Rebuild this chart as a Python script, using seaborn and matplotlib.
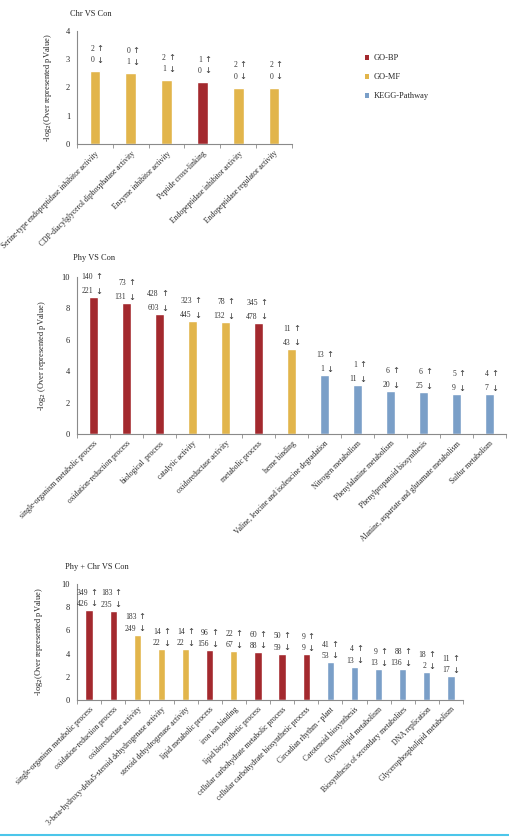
import pandas as pd
import matplotlib.pyplot as plt
import seaborn as sns
from matplotlib.patches import Patch
from matplotlib.lines import Line2D

# -----------------------------
# Data
# -----------------------------
chr_terms = [
    "Serine-type endopeptidase inhibitor activity",
    "CDP-diacylglycerol diphosphatase activity",
    "Enzyme inhibitor activity",
    "Peptide cross-linking",
    "Endopeptidase inhibitor activity",
    "Endopeptidase regulator activity",
]
chr_cats = ["GO-MF", "GO-MF", "GO-MF", "GO-BP", "GO-MF", "GO-MF"]
chr_vals = [2.59, 2.52, 2.26, 2.21, 2.0, 2.0]
chr_up = [2, 0, 2, 1, 2, 2]
chr_down = [0, 1, 1, 0, 0, 0]

phy_terms = [
    "single-organism metabolic process",
    "oxidation-reduction process",
    "biological  process",
    "catalytic activity",
    "oxidoreductase activity",
    "metabolic process",
    "heme binding",
    "Valine, leucine and isoleucine degradation",
    "Nitrogen metabolism",
    "Phenylalanine metabolism",
    "Phenylpropanoid biosynthesis",
    "Alanine, aspartate and glutamate metabolism",
    "Sulfur metabolism",
]
phy_cats = ["GO-BP", "GO-BP", "GO-BP", "GO-MF", "GO-MF", "GO-BP", "GO-MF",
            "KEGG-Pathway", "KEGG-Pathway", "KEGG-Pathway", "KEGG-Pathway",
            "KEGG-Pathway", "KEGG-Pathway"]
phy_vals = [8.73, 8.34, 7.62, 7.2, 7.13, 7.08, 5.44, 3.74, 3.12, 2.74, 2.66, 2.55, 2.55]
phy_up = [140, 73, 428, 323, 78, 345, 11, 13, 1, 6, 6, 5, 4]
phy_down = [221, 131, 603, 445, 132, 478, 43, 1, 11, 20, 25, 9, 7]

both_terms = [
    "single-organism metabolic process",
    "oxidation-reduction process",
    "oxidoreductase activity",
    "3-beta-hydroxy-delta5-steroid dehydrogenase activity",
    "steroid dehydrogenase activity",
    "lipid metabolic process",
    "iron ion binding",
    "lipid biosynthetic process",
    "cellular carbohydrate metabolic process",
    "cellular carbohydrate biosynthetic process",
    "Circadian rhythm - plant",
    "Carotenoid biosynthesis",
    "Glycerolipid metabolism",
    "Biosynthesis of secondary metabolites",
    "DNA replication",
    "Glycerophospholipid metabolism",
]
both_cats = ["GO-BP", "GO-BP", "GO-MF", "GO-MF", "GO-MF", "GO-BP", "GO-MF",
             "GO-BP", "GO-BP", "GO-BP", "KEGG-Pathway", "KEGG-Pathway",
             "KEGG-Pathway", "KEGG-Pathway", "KEGG-Pathway", "KEGG-Pathway"]
both_vals = [7.78, 7.7, 5.63, 4.4, 4.4, 4.3, 4.22, 4.15, 4.0, 3.95,
             3.3, 2.88, 2.68, 2.63, 2.4, 2.03]
both_up = [349, 183, 183, 14, 14, 96, 22, 60, 50, 9, 41, 4, 9, 88, 18, 11]
both_down = [426, 235, 249, 22, 22, 156, 67, 88, 59, 9, 53, 13, 13, 136, 2, 17]

palette = {"GO-BP": "#A3292E", "GO-MF": "#E2B54B", "KEGG-Pathway": "#7A9FC8"}

# -----------------------------
# Style
# -----------------------------
sns.set_style("white")
plt.rcParams["font.family"] = ["Liberation Serif", "DejaVu Sans"]
plt.rcParams["axes.edgecolor"] = "#8a8a8a"

fig = plt.figure(figsize=(5.09, 8.39), dpi=100)
W, H = 509, 839


def px_axes(x0, x1, y_top, y_bot):
    return fig.add_axes([x0 / W, 1 - y_bot / H, (x1 - x0) / W, (y_bot - y_top) / H])


def draw_panel(ax, terms, cats, vals, up, down, ymax, ystep, ylabel, base, gap):
    df = pd.DataFrame({"term": terms, "cat": cats, "val": vals})
    sns.barplot(data=df, x="term", y="val", hue="cat", palette=palette,
                dodge=False, width=0.3, legend=False, ax=ax, saturation=1)
    n = len(terms)
    ax.set_xlim(-0.5, n - 0.5)
    ax.set_ylim(0, ymax)
    ax.set_yticks(range(0, ymax + 1, ystep))
    ax.tick_params(axis="y", labelsize=6, length=3, width=0.6, color="#8a8a8a", pad=2)
    ax.set_xticks(range(n))
    ax.set_xticklabels(terms, rotation=45, ha="right", rotation_mode="anchor",
                       fontsize=5.5)
    ax.set_xticks([i - 0.5 for i in range(n + 1)], minor=True)
    ax.tick_params(axis="x", which="major", length=0, pad=4)
    ax.tick_params(axis="x", which="minor", length=3, width=0.6, color="#8a8a8a",
                   direction="out", bottom=True)
    sns.despine(ax=ax)
    ax.spines["left"].set_linewidth(0.8)
    ax.spines["bottom"].set_linewidth(0.8)
    ax.set_xlabel("")
    ax.set_ylabel(ylabel, fontsize=6)
    for i, (v, u, d) in enumerate(zip(vals, up, down)):
        ax.annotate(str(d), xy=(i, v), xytext=(-0.5, base), textcoords="offset points",
                    ha="right", va="bottom", fontsize=5.5, color="#333333")
        ax.annotate(str(u), xy=(i, v), xytext=(-0.5, base + gap), textcoords="offset points",
                    ha="right", va="bottom", fontsize=5.5, color="#333333")
        ax.annotate("\u2193", xy=(i, v), xytext=(1, base - 0.5), textcoords="offset points",
                    ha="left", va="bottom", fontsize=6, color="#333333",
                    family="DejaVu Sans")
        ax.annotate("\u2191", xy=(i, v), xytext=(1, base + gap), textcoords="offset points",
                    ha="left", va="bottom", fontsize=6, color="#333333",
                    family="DejaVu Sans")


# -----------------------------
# Panels
# -----------------------------
ax1 = px_axes(77, 292, 31, 144)
draw_panel(ax1, chr_terms, chr_cats, chr_vals, chr_up, chr_down, 4, 1,
           "-log$_2$(Over represented pValue)", 5, 8)
ax1.yaxis.set_label_coords(-0.105, 0.5)
fig.text(70 / W, 1 - 14 / H, "Chr VS Con", fontsize=6, ha="left", va="center")

ax2 = px_axes(77, 506, 277, 434)
draw_panel(ax2, phy_terms, phy_cats, phy_vals, phy_up, phy_down, 10, 2,
           "-log$_2$ (Over represented pValue)", 1.5, 10)
ax2.yaxis.set_label_coords(-0.068, 0.5)
fig.text(73 / W, 1 - 258 / H, "Phy VS Con", fontsize=6, ha="left", va="center")

ax3 = px_axes(77, 463, 584, 700)
draw_panel(ax3, both_terms, both_cats, both_vals, both_up, both_down, 10, 2,
           "-log$_2$(Over represented pValue)", 1.5, 8)
ax3.yaxis.set_label_coords(-0.082, 0.5)
fig.text(65 / W, 1 - 567 / H, "Phy + Chr VS Con", fontsize=6, ha="left", va="center")

# -----------------------------
# Legend and bottom rule
# -----------------------------
handles = [Patch(facecolor=palette[k], edgecolor="none") for k in palette]
fig.legend(handles, list(palette.keys()), loc="upper left",
           bbox_to_anchor=(357 / W, 1 - 47 / H), frameon=False, fontsize=6,
           handlelength=0.55, handleheight=0.55, handletextpad=0.5,
           labelspacing=1.3)

fig.add_artist(Line2D([0, 1], [1 - 835 / H, 1 - 835 / H], transform=fig.transFigure,
                      color="#4cc6ea", lw=1.5))

fig.savefig("out.png", dpi=100)
